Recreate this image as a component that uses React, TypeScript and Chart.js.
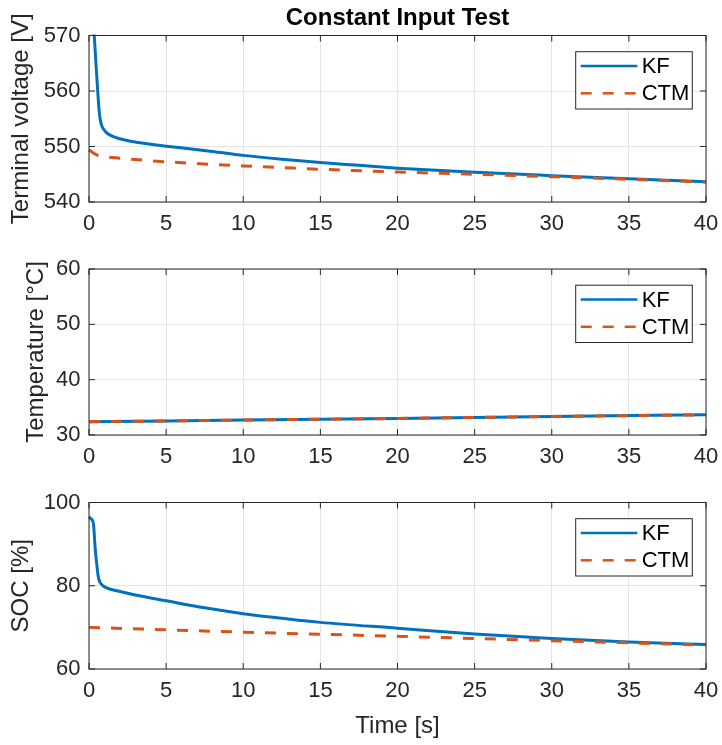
import React, { useEffect, useRef } from 'react';
import { Chart, registerables } from 'chart.js';

Chart.register(...registerables);

const FONT = "'Liberation Sans', Arial, Helvetica, sans-serif";
const TEXT = '#262626';
const GRID = '#e4e4e4';
const KF_COLOR = '#0072BD';
const CTM_COLOR = '#D95319';
const PLOT_LEFT = 89;
const PLOT_RIGHT = 706;
const WIDTH = 722;

// ---- data ----
const chartTitle = 'Constant Input Test';
const xAxisTitle = 'Time [s]';
const seriesLabels = ['KF', 'CTM'];
const xTicks = [0, 5, 10, 15, 20, 25, 30, 35, 40];

const voltTicks = [540, 550, 560, 570];
const voltTimeKF = [0.25, 0.34, 0.45, 0.56, 0.64, 0.72, 0.82, 0.95, 1.1, 1.4, 2.0, 3.0, 4.0, 5.0, 6.5, 8.0, 10, 12.5, 15, 17.5, 20, 25, 30, 35, 40];
const voltKF = [574, 570, 565, 560.2, 557, 555, 553.8, 553.1, 552.6, 552.0, 551.4, 550.8, 550.4, 550.05, 549.6, 549.1, 548.4, 547.7, 547.1, 546.6, 546.1, 545.35, 544.75, 544.2, 543.65];
const voltTimeCTM = [0, 0.2, 0.5, 0.8, 1.2, 2, 3, 5, 7.5, 10, 12.5, 15, 20, 25, 30, 35, 40];
const voltCTM = [549.4, 549.0, 548.5, 548.25, 548.1, 547.9, 547.65, 547.25, 546.85, 546.5, 546.2, 545.9, 545.4, 545.0, 544.55, 544.1, 543.6];

const tempTicks = [30, 40, 50, 60];
const tempTime = [0, 10, 20, 30, 40];
const tempKF = [32.4, 32.7, 33.0, 33.35, 33.65];
const tempCTM = [32.4, 32.7, 33.0, 33.35, 33.65];

const socTicks = [60, 80, 100];
const socTimeKF = [0, 0.12, 0.24, 0.3, 0.4, 0.5, 0.6, 0.72, 0.9, 1.2, 1.8, 3, 5, 7.5, 10, 12.5, 15, 20, 25, 30, 35, 40];
const socKF = [96.6, 96.1, 95.6, 94.5, 89.0, 85.3, 82.2, 80.8, 80.0, 79.4, 78.8, 77.8, 76.4, 74.7, 73.3, 72.2, 71.2, 69.8, 68.4, 67.3, 66.5, 65.9];
const socTimeCTM = [0, 10, 20, 30, 40];
const socCTM = [70.0, 68.85, 67.85, 66.8, 65.75];

type PanelProps = {
  top: number;
  height: number;
  plotTop: number;
  plotBottom: number;
  kf: [number[], number[]];
  ctm: [number[], number[]];
  yTicks: number[];
  yTitle: string;
  yTitlePad: number;
  title?: string;
  xTitle?: string;
};

function Panel(p: PanelProps) {
  const ref = useRef<HTMLCanvasElement>(null);
  useEffect(() => {
    const canvas = ref.current;
    if (!canvas) return;
    const TL = 6;
    const framePlugin = {
      id: 'frameLegend',
      afterDatasetsDraw(chart: any) {
        const { ctx, chartArea: a, scales } = chart;
        const x = scales.x;
        const y = scales.y;
        ctx.save();
        ctx.strokeStyle = TEXT;
        ctx.lineWidth = 1;
        ctx.beginPath();
        for (const t of x.ticks) {
          const px = x.getPixelForValue(t.value);
          ctx.moveTo(px, a.bottom);
          ctx.lineTo(px, a.bottom - TL);
          ctx.moveTo(px, a.top);
          ctx.lineTo(px, a.top + TL);
        }
        for (const t of y.ticks) {
          const py = y.getPixelForValue(t.value);
          ctx.moveTo(a.left, py);
          ctx.lineTo(a.left + TL, py);
          ctx.moveTo(a.right, py);
          ctx.lineTo(a.right - TL, py);
        }
        ctx.stroke();
        ctx.strokeRect(a.left, a.top, a.right - a.left, a.bottom - a.top);

        // legend
        const bw = 116.6;
        const bh = 57.3;
        const bx = a.right - 13.7 - bw;
        const by = a.top + 16.2;
        ctx.fillStyle = '#ffffff';
        ctx.fillRect(bx, by, bw, bh);
        ctx.strokeStyle = TEXT;
        ctx.lineWidth = 1;
        ctx.strokeRect(bx, by, bw, bh);
        chart.data.datasets.forEach((ds: any, i: number) => {
          const ry = by + 14.3 + i * 27.3;
          ctx.beginPath();
          ctx.strokeStyle = ds.borderColor;
          ctx.lineWidth = 2.5;
          ctx.setLineDash(ds.borderDash || []);
          ctx.moveTo(bx + 5, ry);
          ctx.lineTo(bx + 61.6, ry);
          ctx.stroke();
          ctx.setLineDash([]);
          ctx.fillStyle = '#000000';
          ctx.font = `22px ${FONT}`;
          ctx.textAlign = 'left';
          ctx.textBaseline = 'middle';
          ctx.fillText(ds.label, bx + 66, ry + 1);
        });

        if (p.title) {
          ctx.fillStyle = '#000000';
          ctx.font = `bold 24px ${FONT}`;
          ctx.textAlign = 'center';
          ctx.textBaseline = 'middle';
          ctx.fillText(p.title, (a.left + a.right) / 2, 18.7);
        }
        ctx.restore();
      },
    };

    const mk = (label: string, d: [number[], number[]], color: string, dash: number[], order: number) => ({
      label,
      data: d[0].map((t, i) => ({ x: t, y: d[1][i] })),
      borderColor: color,
      backgroundColor: color,
      borderDash: dash,
      borderWidth: 3,
      borderCapStyle: 'butt',
      pointRadius: 0,
      fill: false,
      cubicInterpolationMode: 'monotone',
      clip: 1,
      order,
    });

    const chart = new Chart(canvas, {
      type: 'line',
      data: {
        datasets: [
          mk(seriesLabels[0], p.kf, KF_COLOR, [], 1),
          mk(seriesLabels[1], p.ctm, CTM_COLOR, [11, 11], 0),
        ] as any,
      },
      options: {
        responsive: false,
        animation: false,
        events: [],
        layout: { padding: { left: 0, right: WIDTH - PLOT_RIGHT, top: p.plotTop, bottom: 0 } },
        plugins: { legend: { display: false }, tooltip: { enabled: false }, title: { display: false } },
        scales: {
          x: {
            type: 'linear',
            min: xTicks[0],
            max: xTicks[xTicks.length - 1],
            afterBuildTicks: (s: any) => {
              s.ticks = xTicks.map((v) => ({ value: v }));
            },
            afterFit: (s: any) => {
              s.height = p.height - p.plotBottom;
              s.paddingLeft = 0;
              s.paddingRight = 0;
            },
            grid: { color: GRID, drawTicks: false },
            border: { display: false },
            ticks: { color: TEXT, font: { family: FONT, size: 22 }, padding: 9, maxRotation: 0, autoSkip: false },
            title: p.xTitle
              ? { display: true, text: p.xTitle, color: TEXT, font: { family: FONT, size: 24 }, padding: { top: 0, bottom: 4.2 } }
              : { display: false },
          },
          y: {
            type: 'linear',
            min: p.yTicks[0],
            max: p.yTicks[p.yTicks.length - 1],
            afterBuildTicks: (s: any) => {
              s.ticks = p.yTicks.map((v) => ({ value: v }));
            },
            afterFit: (s: any) => {
              s.width = PLOT_LEFT;
            },
            grid: { color: GRID, drawTicks: false },
            border: { display: false },
            ticks: { color: TEXT, font: { family: FONT, size: 22 }, padding: 8.5, autoSkip: false },
            title: { display: true, text: p.yTitle, color: TEXT, font: { family: FONT, size: 24 }, padding: { top: p.yTitlePad, bottom: 0 } },
          },
        },
      } as any,
      plugins: [framePlugin],
    });
    return () => chart.destroy();
  }, []);
  return (
    <canvas
      ref={ref}
      width={WIDTH}
      height={p.height}
      style={{ position: 'absolute', left: 0, top: p.top, display: 'block', width: WIDTH, height: p.height }}
    />
  );
}

export default function App() {
  return (
    <div style={{ position: 'absolute', left: 0, top: 0, width: WIDTH, height: 745, background: '#ffffff', overflow: 'hidden' }}>
      <Panel
        top={0}
        height={235}
        plotTop={35.5}
        plotBottom={202}
        kf={[voltTimeKF, voltKF]}
        ctm={[voltTimeCTM, voltCTM]}
        yTicks={voltTicks}
        yTitle="Terminal voltage [V]"
        yTitlePad={7.2}
        title={chartTitle}
      />
      <Panel
        top={235}
        height={235}
        plotTop={34}
        plotBottom={200}
        kf={[tempTime, tempKF]}
        ctm={[tempTime, tempCTM]}
        yTicks={tempTicks}
        yTitle="Temperature [°C]"
        yTitlePad={22.2}
      />
      <Panel
        top={470}
        height={275}
        plotTop={32.5}
        plotBottom={199}
        kf={[socTimeKF, socKF]}
        ctm={[socTimeCTM, socCTM]}
        yTicks={socTicks}
        yTitle="SOC [%]"
        yTitlePad={7.2}
        xTitle={xAxisTitle}
      />
    </div>
  );
}
